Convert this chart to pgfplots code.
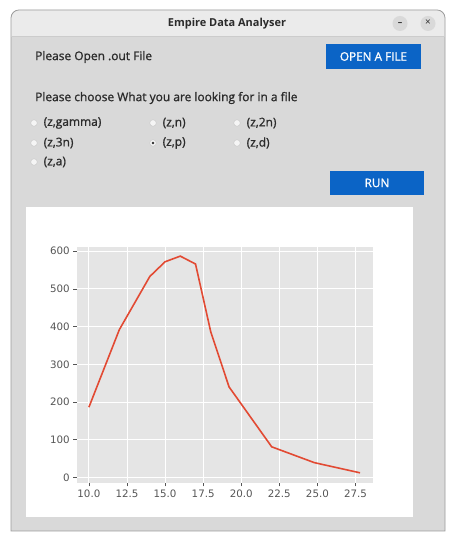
\documentclass[border=0pt]{standalone}
\usepackage{pgfplots}
\pgfplotsset{compat=1.18}
\usepackage{fontspec}
\setmainfont{Open Sans}
\newfontfamily\medfont{Open Sans}[FakeBold=1.1]
\newfontfamily\dejavu{DejaVu Sans}
\definecolor{winbg}{HTML}{D9D9D9}
\definecolor{titlebg}{HTML}{EBEBEB}
\definecolor{winborder}{HTML}{9C9C9C}
\definecolor{btnblue}{HTML}{0B64C6}
\definecolor{axbg}{HTML}{E5E5E5}
\definecolor{tickgray}{HTML}{555555}
\definecolor{ggred}{HTML}{E24A33}
\definecolor{txt}{HTML}{2B2B2B}
\begin{document}
\begin{tikzpicture}[x=1bp,y=1bp]
\useasboundingbox (0,0) rectangle (449,534);
\fill[white] (0,0) rectangle (449,534);
% window
\fill[winbg] (11,3) -- (11,516) [rounded corners=8] -- (11,524) -- (445,524) [sharp corners] -- (445,3) -- cycle;
\begin{scope}
\clip (11,498) -- (11,516) [rounded corners=8] -- (11,524) -- (445,524) [sharp corners] -- (445,498) -- cycle;
\fill[titlebg] (11,498) rectangle (445,524);
\end{scope}
\draw[winborder, line width=0.8] (11,3) -- (11,516) [rounded corners=8] -- (11,524) -- (445,524) [sharp corners] -- (445,3) -- cycle;
\draw[black!20, line width=0.6] (11,498) -- (445,498);
\node[font=\bfseries\fontsize{11}{13}\selectfont, text=txt] at (227,510.5) {Empire Data Analyser};
\fill[black!15] (400,510.5) circle (7.5);
\fill[black!15] (428,510.5) circle (7.5);
\node[font=\bfseries\fontsize{9}{10}\selectfont, text=txt] at (400,510) {–};
\node[font=\fontsize{10}{11}\selectfont, text=txt] at (428,511) {×};
% labels
\node[anchor=west, inner sep=0, font=\medfont\fontsize{12}{14}\selectfont, text=txt] at (35,477) {Please Open .out File};
\fill[btnblue] (326,465) rectangle (421,490);
\node[font=\medfont\fontsize{11.8}{14}\selectfont, text=white] at (373.5,477.5) {OPEN A FILE};
\node[anchor=west, inner sep=0, font=\medfont\fontsize{12}{14}\selectfont, text=txt] at (35,436) {Please choose What you are looking for in a file};
% radios
\foreach \cx/\cy/\lab in {34/411/{(z,gamma)}, 153/411/{(z,n)}, 237/411/{(z,2n)}, 34/391/{(z,3n)}, 153/391/{(z,p)}, 237/391/{(z,d)}, 34/372/{(z,a)}}{
  \filldraw[fill=white!96!black, draw=black!22, line width=0.4] (\cx,\cy) circle (3.3);
  \node[anchor=west, inner sep=0, font=\medfont\fontsize{12}{14}\selectfont, text=txt] at (\cx+9.5,\cy) {\lab};
}
\fill[txt] (153,391) circle (1.4);
\fill[btnblue] (330,339) rectangle (424,363);
\node[font=\medfont\fontsize{11.8}{14}\selectfont, text=white] at (377,351) {RUN};
% chart panel
\fill[white] (26,17) rectangle (413,327);
\begin{axis}[
  at={(76.7bp,51bp)}, anchor=south west,
  scale only axis, width=296.3bp, height=236.3bp,
  xmin=9.2, xmax=28.65, ymin=-15, ymax=612,
  axis background/.style={fill=axbg},
  axis x line*=bottom, axis y line*=left,
  axis line style={draw=none},
  xtick={10,12.5,15,17.5,20,22.5,25,27.5},
  ytick={0,100,200,300,400,500,600},
  xticklabel style={/pgf/number format/.cd, fixed, fixed zerofill, precision=1},
  tick align=outside, major tick length=3.5bp,
  tick style={tickgray, line width=0.7bp},
  grid=major, major grid style={white, line width=0.9bp},
  ticklabel style={font=\dejavu\fontsize{10.3}{12}\selectfont, text=tickgray},
  /pgf/number format/assume math mode=true,
  clip=false,
]
\addplot[color=ggred, line width=1.6bp] coordinates {
 (10,186) (12,392) (14,533) (15,572) (16,587) (17,566) (18,386) (19.2,240) (22,81) (24.8,39) (27.8,12)
};
\end{axis}
\end{tikzpicture}
\end{document}
